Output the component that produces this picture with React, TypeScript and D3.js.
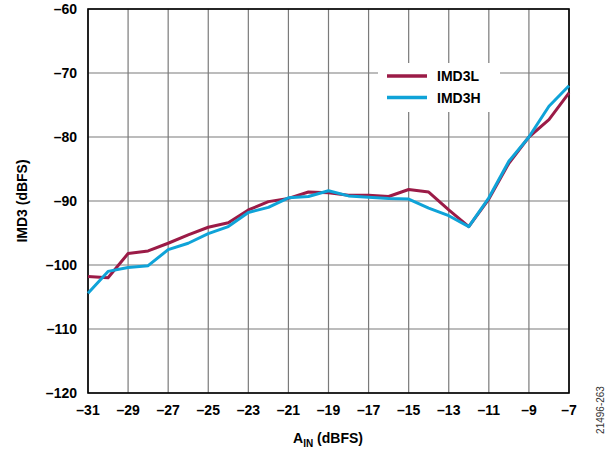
import React from "react";
import * as d3 from "d3";

const xValues = [-31, -30, -29, -28, -27, -26, -25, -24, -23, -22, -21, -20, -19, -18, -17, -16, -15, -14, -13, -12, -11, -10, -9, -8, -7];
const imd3L = [-101.8, -102.0, -98.2, -97.8, -96.6, -95.3, -94.1, -93.4, -91.4, -90.1, -89.6, -88.6, -88.7, -89.1, -89.1, -89.3, -88.2, -88.6, -91.4, -94.0, -89.7, -84.1, -80.0, -77.3, -73.1];
const imd3H = [-104.4, -101.0, -100.4, -100.1, -97.6, -96.6, -95.1, -94.0, -91.8, -91.0, -89.5, -89.3, -88.4, -89.2, -89.4, -89.6, -89.7, -91.1, -92.3, -94.0, -89.5, -83.8, -80.0, -75.2, -72.0];
const xTicks = [-31, -29, -27, -25, -23, -21, -19, -17, -15, -13, -11, -9, -7];
const yTicks = [-60, -70, -80, -90, -100, -110, -120];
const seriesNames = ["IMD3L", "IMD3H"];
const seriesColors = ["#9b1b47", "#0fa3d8"];

export default function App() {
  const W = 614, H = 452;
  const left = 88, right = 569, top = 9, bottom = 393;
  const x = d3.scaleLinear().domain([-31, -7]).range([left, right]);
  const y = d3.scaleLinear().domain([-120, -60]).range([bottom, top]);
  const line = d3.line<number>().x((_, i) => x(xValues[i])).y((d) => y(d));
  const font = "'Liberation Sans', Arial, sans-serif";
  const series = [imd3L, imd3H];
  const legX = 387, legY = 76;
  return (
    <svg width={W} height={H} style={{ position: "absolute", left: 0, top: 0 }} fontFamily={font}>
      <rect width={W} height={H} fill="#fff" />
      {xTicks.map((t) => (
        <line key={"gx" + t} x1={x(t)} x2={x(t)} y1={top} y2={bottom} stroke="#7a7a7a" strokeWidth={1.2} />
      ))}
      {yTicks.map((t) => (
        <line key={"gy" + t} x1={left} x2={right} y1={y(t)} y2={y(t)} stroke="#7a7a7a" strokeWidth={1.2} />
      ))}
      <rect x={378} y={63} width={122} height={49} fill="#fff" />
      <rect x={left} y={top} width={right - left} height={bottom - top} fill="none" stroke="#000" strokeWidth={1.6} />
      {series.map((s, i) => (
        <path key={"s" + i} d={line(s) || ""} fill="none" stroke={seriesColors[i]} strokeWidth={3} strokeLinejoin="round" />
      ))}
      {seriesNames.map((n, i) => (
        <g key={"l" + n}>
          <line x1={legX} x2={legX + 40} y1={legY + i * 21.5} y2={legY + i * 21.5} stroke={seriesColors[i]} strokeWidth={3.5} />
          <text x={legX + 50} y={legY + i * 21.5 + 5} fontSize={14} fontWeight="bold" fill="#000">{n}</text>
        </g>
      ))}
      {yTicks.map((t) => (
        <text key={"ty" + t} x={77} y={y(t) + 5} fontSize={14} fontWeight="bold" textAnchor="end">{"\u2013" + Math.abs(t)}</text>
      ))}
      {xTicks.map((t) => (
        <text key={"tx" + t} x={x(t)} y={415} fontSize={14} fontWeight="bold" textAnchor="middle">{"\u2013" + Math.abs(t)}</text>
      ))}
      <text x={328} y={443} fontSize={14} fontWeight="bold" textAnchor="middle">
        A<tspan fontSize={10} dy={4}>IN</tspan><tspan dy={-4}> (dBFS)</tspan>
      </text>
      <text transform="translate(27,201) rotate(-90)" fontSize={14} fontWeight="bold" textAnchor="middle">IMD3 (dBFS)</text>
      <text transform="translate(604,410) rotate(-90)" fontSize={10} fill="#333" textAnchor="middle">21496-263</text>
    </svg>
  );
}
